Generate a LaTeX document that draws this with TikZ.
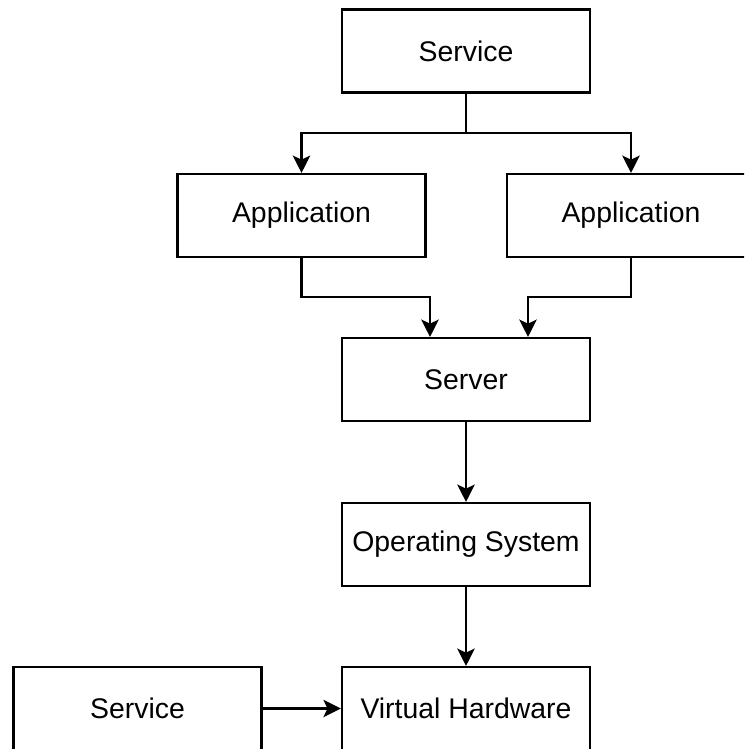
\documentclass[tikz,border=0pt]{standalone}
\usepackage{fontspec}
\setmainfont{Liberation Sans}
\usetikzlibrary{arrows.meta}

\begin{document}
\begin{tikzpicture}[x=0.75pt,y=-0.75pt,
  box/.style={draw, line width=1.8pt, minimum width=186pt, minimum height=62pt,
    inner sep=0pt, font=\fontsize{21.3}{25}\selectfont},
  link/.style={line width=1.8pt, -{Stealth[length=13pt,width=13pt,inset=3pt]}}]

% Page frame (the right box runs off the edge)
\clip (0,0) rectangle (744,749);

% Boxes
\node[box] (svcTop) at (466,51) {Service};
\node[box] (appL) at (301.5,215.5) {Application};
\node[box] (appR) at (631,215.5) {Application};
\node[box] (server) at (466,379.5) {Server};
\node[box] (os) at (466,544.5) {Operating System};
\node[box] (vhw) at (466,708.5) {Virtual Hardware};
\node[box] (svcLow) at (137.5,708.5) {Service};

% Bend points
\coordinate (split) at (466,133);
\coordinate (bendL) at (430,297);
\coordinate (bendR) at (528,297);

% Service to both applications
\draw[line width=1.8pt] (svcTop) -- (split);
\draw[link] (split) -| (appL);
\draw[link] (split) -| (appR);

% Applications to server
\draw[link] (appL) |- (bendL) -- (bendL |- server.north);
\draw[link] (appR) |- (bendR) -- (bendR |- server.north);

% Down the stack
\draw[link] (server) -- (os);
\draw[link] (os) -- (vhw);
\draw[link] (svcLow) -- (vhw);

\end{tikzpicture}
\end{document}
